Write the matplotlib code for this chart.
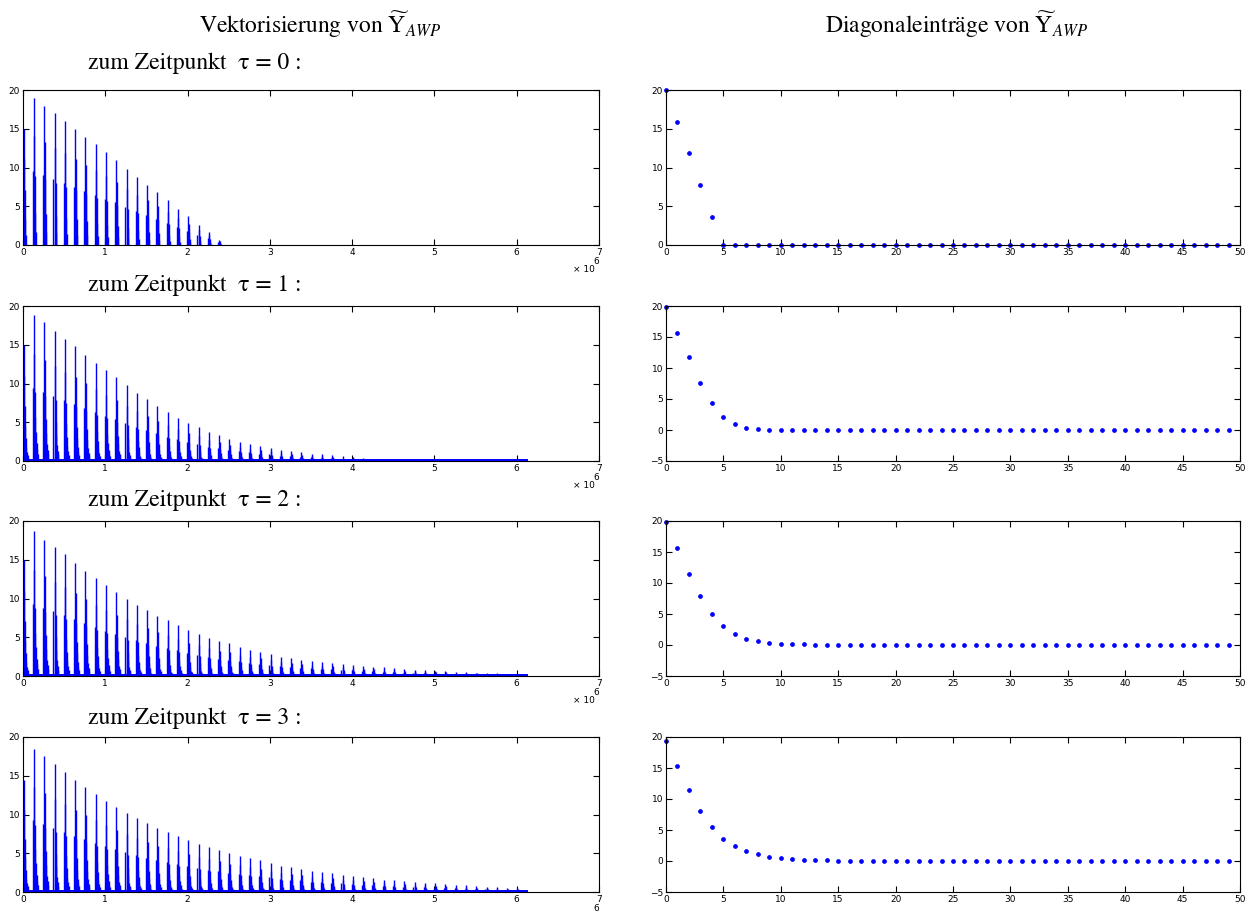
import matplotlib.pyplot as plt
import numpy as np

plt.rcParams['mathtext.fontset'] = 'stix'

# Spitzenwerte je Block (Blockabstand 125000) fuer tau = 0..3
peaks_t0 = [15, 19, 18, 17, 16, 15, 14, 13, 12, 11, 9.8, 8.8, 7.8, 6.8, 5.8, 4.7, 3.7, 2.6, 1.7, 0.65]
peaks_t1 = [15, 18.9, 17.9, 16.8, 15.8, 14.8, 13.7, 12.7, 11.7, 10.8, 9.8, 8.8, 8.0, 7.1, 6.3, 5.6,
            4.9, 4.4, 3.7, 3.3, 2.9, 2.5, 2.2, 1.9, 1.7, 1.4, 1.25, 1.1, 0.95, 0.85, 0.75, 0.6, 0.5,
            0.4, 0.3, 0.25, 0.2, 0.17, 0.12, 0.1, 0.08, 0.06, 0.05, 0.05, 0.05, 0.05, 0.05, 0.05, 0.05]
peaks_t2 = [15, 18.7, 17.6, 16.7, 15.7, 14.6, 13.6, 12.6, 11.7, 10.8, 10.0, 9.2, 8.5, 7.8, 7.2, 6.6,
            5.9, 5.4, 4.9, 4.5, 4.2, 3.8, 3.4, 3.1, 2.8, 2.5, 2.3, 2.1, 2.0, 1.85, 1.7, 1.55, 1.45,
            1.3, 1.2, 1.1, 1.0, 0.9, 0.8, 0.75, 0.68, 0.62, 0.56, 0.5, 0.45, 0.4, 0.36, 0.32, 0.28]
peaks_t3 = [14.5, 18.5, 17.5, 16.5, 15.5, 14.5, 13.6, 12.7, 11.8, 11.0, 10.2, 9.5, 8.9, 8.2, 7.7, 7.2,
            6.7, 6.2, 5.8, 5.4, 5.0, 4.7, 4.4, 4.1, 3.8, 3.4, 3.2, 3.0, 2.7, 2.55, 2.4, 2.2, 2.05,
            1.9, 1.75, 1.6, 1.5, 1.4, 1.3, 1.2, 1.1, 1.0, 0.92, 0.85, 0.78, 0.7, 0.64, 0.58, 0.5]

# Unterstruktur eines Blocks: Versatz (Index) und Anteil an der Spitze
sub_offset = [-6000, 8000, 14000, 20000, 26000, 32000, 40000, 48000, 56000]
sub_share_t0 = [0.5, 1.0, 0.74, 0.47, 0.22, 0.09, 0.0, 0.0, 0.0]
sub_share = [0.5, 1.0, 0.73, 0.47, 0.3, 0.2, 0.12, 0.08, 0.05]
block = 125000
vec_end = 6125000

# Diagonaleintraege 0..49
diag_t0 = [20, 15.9, 11.9, 7.8, 3.6] + [0] * 45
diag_t1 = [19.9, 15.7, 11.7, 7.6, 4.3, 2.1, 1.0, 0.4, 0.15, 0.02] + [0] * 40
diag_t2 = [19.8, 15.6, 11.5, 7.9, 5.0, 3.0, 1.7, 1.0, 0.6, 0.3, 0.15, 0.12, 0.1, 0.02] + [0] * 36
diag_t3 = [19.4, 15.3, 11.4, 8.0, 5.5, 3.6, 2.4, 1.6, 1.05, 0.7, 0.45, 0.3, 0.15, 0.12, 0.1,
           0.02] + [0] * 34

peaks = [peaks_t0, peaks_t1, peaks_t2, peaks_t3]
shares = [sub_share_t0, sub_share, sub_share, sub_share]
diags = [diag_t0, diag_t1, diag_t2, diag_t3]
W, H = 1253, 918
fig = plt.figure(figsize=(W / 100, H / 100), dpi=100)

tops = [90, 306, 521, 737]
ah = 155
label_y = [63, 285, 500, 718]


def style(ax):
    ax.tick_params(direction='in', length=4, width=0.8, labelsize=6.5, top=True, right=True, pad=2)
    for s in ax.spines.values():
        s.set_linewidth(0.8)


for r in range(4):
    bottom = 1 - (tops[r] + ah) / H
    # links: Vektorisierung
    ax = fig.add_axes([23 / W, bottom, 576 / W, ah / H])
    xs, hs = [], []
    for k, p in enumerate(peaks[r]):
        for off, sh in zip(sub_offset, shares[r]):
            x = k * block + off
            if sh > 0 and x >= 0:
                xs.append(x)
                hs.append(p * sh)
    ax.vlines(xs, 0, hs, color='#0000ff', lw=1.0)
    if r > 0:
        ax.plot([0, vec_end], [0.08, 0.08], color='#0000ff', lw=1.4)
    ax.set_xlim(0, 7e6)
    ax.set_ylim(0, 20)
    ax.set_xticks(np.arange(8) * 1e6)
    ax.set_xticklabels([str(i) for i in range(8)])
    ax.set_yticks([0, 5, 10, 15, 20])
    style(ax)
    # Exponent wie bei MATLAB: "6" ueber "x 10"
    ax.text(1.0, -0.08, '6', transform=ax.transAxes, ha='right', va='top', fontsize=6.5)
    if r < 3:
        ax.text(0.992, -0.13, '× 10', transform=ax.transAxes, ha='right', va='top', fontsize=6.5)
    fig.text(88 / W, 1 - label_y[r] / H, 'zum Zeitpunkt  τ = %d :' % r,
             family='STIXGeneral', fontsize=17, va='center', ha='left')

    # rechts: Diagonaleintraege
    ax2 = fig.add_axes([666 / W, bottom, 574 / W, ah / H])
    ax2.plot(np.arange(50), diags[r], ls='none', marker='o', ms=2.4, color='#0000ff', clip_on=False)
    ax2.set_xlim(0, 50)
    ax2.set_xticks(np.arange(0, 51, 5))
    if r == 0:
        ax2.set_ylim(0, 20)
        ax2.set_yticks([0, 5, 10, 15, 20])
    else:
        ax2.set_ylim(-5, 20)
        ax2.set_yticks([-5, 0, 5, 10, 15, 20])
    style(ax2)

fig.text(320 / W, 1 - 25 / H, r'Vektorisierung von $\widetilde{\mathrm{Y}}_{AWP}$',
         family='STIXGeneral', fontsize=17, ha='center', va='center')
fig.text(957 / W, 1 - 25 / H, r'Diagonaleinträge von $\widetilde{\mathrm{Y}}_{AWP}$',
         family='STIXGeneral', fontsize=17, ha='center', va='center')

fig.savefig('out.png', dpi=100)
